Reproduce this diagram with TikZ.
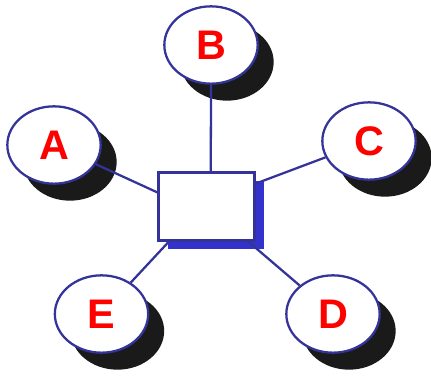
\documentclass[tikz,border=0pt]{standalone}
\usepackage{fontspec}
\setmainfont{Liberation Sans}
\usetikzlibrary{shapes.geometric,shadows}

\definecolor{linkblue}{RGB}{51,51,153}
\definecolor{hubshade}{RGB}{51,51,204}
\definecolor{nodeshade}{RGB}{26,26,26}

\tikzset{every picture/.style={line width=1.7pt}}
\tikzset{
	station/.style={ellipse, draw=linkblue, fill=white, minimum width=70pt, minimum height=58pt, inner sep=0pt,
		font=\fontsize{31}{31}\selectfont\bfseries, text=red,
		general shadow={fill=nodeshade, shadow xshift=12pt, shadow yshift=-12.75pt}},
	hubbox/.style={rectangle, draw=linkblue, fill=white, minimum width=72pt, minimum height=51pt, inner sep=0pt,
		general shadow={fill=hubshade, shadow xshift=7pt, shadow yshift=-6.5pt}},
	link/.style={draw=linkblue}
}

\begin{document}
\begin{tikzpicture}[x=0.75pt,y=0.75pt,yscale=-1,xscale=1]
	\useasboundingbox (0,0) rectangle (431,375);

	%Shape: Rectangle [hub]
	\node[hubbox] (hub) at (206.5,206.5) {};

	%Shape: Ellipse [stations]
	\node[station] (A) at (54,145) {A};
	\node[station] (B) at (211,45) {B};
	\node[station] (C) at (369,141) {C};
	\node[station] (D) at (333,314) {D};
	\node[station] (E) at (101.5,314) {E};

	%Straight Lines
	\draw[link] (A) -- (hub.164);
	\draw[link] (B) -- (hub.83);
	\draw[link] (C) -- (hub.25);
	\draw[link] (D) -- (hub.-40);
	\draw[link] (E) -- (hub.223);

\end{tikzpicture}
\end{document}
